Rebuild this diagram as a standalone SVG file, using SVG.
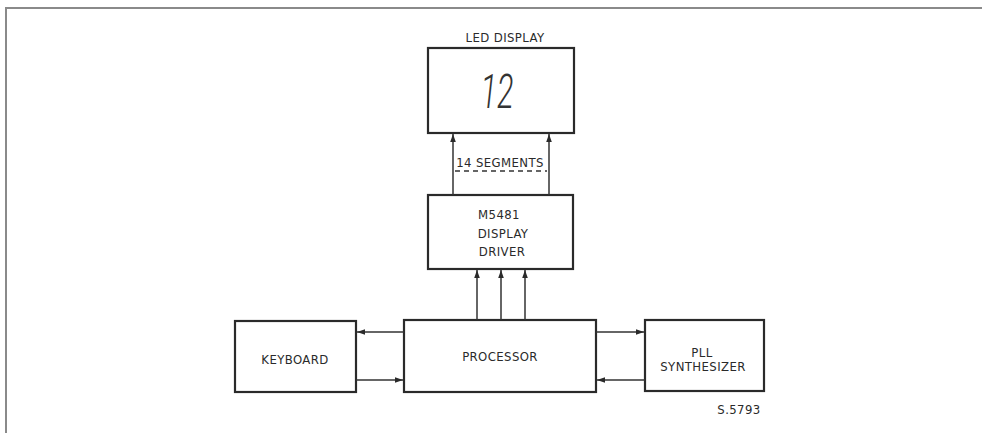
<svg xmlns="http://www.w3.org/2000/svg" width="982" height="433" viewBox="0 0 982 433">
<style>
.box{fill:none;stroke:#2a2a2a;stroke-width:2.2}
.ln{fill:none;stroke:#333;stroke-width:1.5}
.t{font-family:"DejaVu Sans Condensed","DejaVu Sans",sans-serif;font-size:13px;letter-spacing:0.4px;fill:#2a2a2a;text-anchor:middle}
.frame{fill:none;stroke:#8a8a8a;stroke-width:2}
</style>
<defs>
<marker id="ah" viewBox="0 0 10 10" refX="10" refY="5" markerWidth="8" markerHeight="8" markerUnits="userSpaceOnUse" orient="auto">
<path d="M0,1.5 L10,5 L0,8.5 Z" fill="#2a2a2a"/>
</marker>
</defs>
<rect width="982" height="433" fill="#fff"/>
<path class="frame" d="M6,433 V8 H982"/>
<g id="led-display">
<rect class="box" x="428" y="48" width="146" height="85"/>
<text class="t" x="505" y="42" letter-spacing="1.5">LED DISPLAY</text>
<text x="497" y="108" text-anchor="middle" font-family="Roboto,'DejaVu Sans',sans-serif" font-weight="300" font-style="italic" font-size="48" fill="#333" textLength="33" lengthAdjust="spacingAndGlyphs">12</text>
</g>
<g id="display-driver">
<rect class="box" x="428" y="195" width="145" height="74"/>
<text class="t" x="499" y="219">M5481</text>
<text class="t" x="503" y="238">DISPLAY</text>
<text class="t" x="502" y="256">DRIVER</text>
</g>
<g id="keyboard">
<rect class="box" x="235" y="321" width="121" height="71"/>
<text class="t" x="295" y="364">KEYBOARD</text>
</g>
<g id="processor">
<rect class="box" x="404" y="320" width="192" height="72"/>
<text class="t" x="500" y="361">PROCESSOR</text>
</g>
<g id="pll-synthesizer">
<rect class="box" x="645" y="320" width="119" height="71"/>
<text class="t" x="702" y="357">PLL</text>
<text class="t" x="703" y="371">SYNTHESIZER</text>
</g>
<g id="connectors">
<line class="ln" x1="453" y1="195" x2="453" y2="134" marker-end="url(#ah)"/>
<line class="ln" x1="549" y1="195" x2="549" y2="134" marker-end="url(#ah)"/>
<text class="t" x="500" y="167">14 SEGMENTS</text>
<line class="ln" x1="455" y1="171" x2="547" y2="171" stroke-dasharray="5,4" stroke-width="1"/>
<line class="ln" x1="477" y1="320" x2="477" y2="270" marker-end="url(#ah)"/>
<line class="ln" x1="501" y1="320" x2="501" y2="270" marker-end="url(#ah)"/>
<line class="ln" x1="525" y1="320" x2="525" y2="270" marker-end="url(#ah)"/>
<line class="ln" x1="404" y1="332" x2="357" y2="332" marker-end="url(#ah)"/>
<line class="ln" x1="356" y1="380" x2="403" y2="380" marker-end="url(#ah)"/>
<line class="ln" x1="596" y1="332" x2="644" y2="332" marker-end="url(#ah)"/>
<line class="ln" x1="645" y1="380" x2="597" y2="380" marker-end="url(#ah)"/>
</g>
<text class="t" x="739" y="414" font-size="9">S.5793</text>
</svg>
